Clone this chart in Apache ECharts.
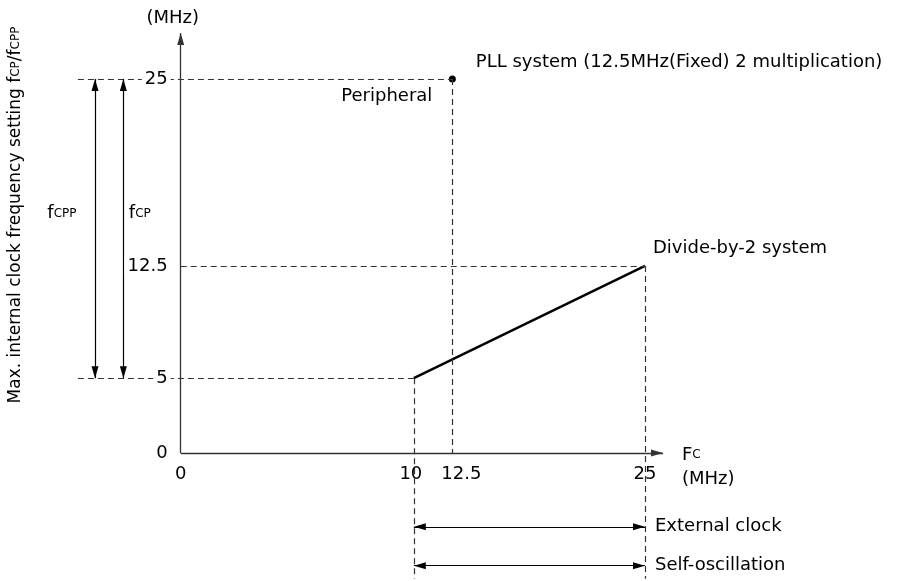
<!DOCTYPE html>
<html>
<head>
<meta charset="utf-8">
<script src="https://cdn.jsdelivr.net/npm/echarts@6/dist/echarts.min.js"></script>
<style>html,body{margin:0;padding:0;background:#fff}#c{width:904px;height:581px}</style>
</head>
<body>
<div id="c"></div>
<script>
// ---- data (schematic chart, MHz) ----
const X_MIN = -14, X_MAX = 26.17;      // x extent incl. left annotation area
const Y_MIN = -8.4, Y_MAX = 28.07;     // y extent incl. bottom annotation area
const X_ORIGIN = -5.13;                // where the drawn axes cross (labelled "0")
const xTickValues = [10, 12.5, 25];
const yTickValues = [0, 5, 12.5, 25];
const divideBy2 = [[10, 5], [25, 12.5]];
const pllPoint = [[12.5, 25]];
const fcpRange = [5, 25];              // fCP / fCPP span
const fcInputRange = [10, 25];         // external clock / self-oscillation span
const fcppX = -10.69, fcpX = -8.85;    // annotation arrows columns
const externalY = -4.93, selfY = -7.53;// annotation arrows rows
const guideLeftX = -11.8;
const arrowLabelY = 16;

const FONT = 'DejaVu Sans';
const FS = 18;
const norm = {fontFamily: FONT, fontSize: FS, color: '#000'};
const small = {fontFamily: FONT, fontSize: 12, color: '#000'};

function tri(coord, size) {
  return {coord: coord, symbol: 'triangle', symbolSize: size || [7, 12], symbolOffset: [0, '50%']};
}
function plain(coord) { return {coord: coord, symbol: 'none'}; }

function xLabel(v) {
  if (Math.abs(v - X_ORIGIN) < 1e-9) return '0';
  if (v === 12.5) return '{r|12.5}';
  if (v === 10) return '{l|10}';
  return String(v);
}

const chart = echarts.init(document.getElementById('c'));
chart.setOption({
  animation: false,
  grid: {left: 44, right: 241, top: 33, bottom: 2.3, outerBoundsMode: 'none'},
  xAxis: {
    type: 'value', min: X_MIN, max: X_MAX, position: 'bottom', offset: -125.7, z: 10,
    axisLine: {show: false, onZero: false},
    axisTick: {show: false}, splitLine: {show: false},
    axisLabel: {
      customValues: [X_ORIGIN].concat(xTickValues),
      formatter: xLabel,
      margin: 12, fontFamily: FONT, fontSize: FS, color: '#000',
      rich: {
        r: Object.assign({padding: [0, 0, 0, 18]}, norm),
        l: Object.assign({padding: [0, 6, 0, 0]}, norm)
      }
    },
    name: '{b|F}{s|C}\n{b|(MHz)}', nameLocation: 'end', nameGap: 19,
    nameTextStyle: {
      align: 'left', verticalAlign: 'middle', padding: [28, 0, 0, 0], lineHeight: 24,
      rich: {b: Object.assign({lineHeight: 24}, norm), s: Object.assign({lineHeight: 24}, small)}
    }
  },
  yAxis: {
    type: 'value', min: Y_MIN, max: Y_MAX, position: 'left', offset: -136.7, z: 10,
    axisLine: {show: false, onZero: false},
    axisTick: {show: false}, splitLine: {show: false},
    axisLabel: {
      customValues: yTickValues, margin: 10, fontFamily: FONT, fontSize: FS, color: '#000',
      backgroundColor: '#fff', padding: [1, 3]
    },
    name: '(MHz)', nameLocation: 'end', nameGap: 6,
    nameTextStyle: Object.assign({padding: [0, 16, 0, 0]}, norm)
  },
  graphic: [{
    type: 'text', x: 16, y: 215, rotation: Math.PI / 2, silent: true,
    style: {
      text: 'Max. internal clock frequency setting f{s|CP}/f{s|CPP}',
      fontFamily: FONT, fontSize: 17, fill: '#000', align: 'center', verticalAlign: 'middle',
      rich: {s: {fontFamily: FONT, fontSize: 12, fill: '#000'}}
    }
  }],
  series: [
    {
      name: 'axes', type: 'line', data: [], clip: false, silent: true,
      markLine: {
        silent: true, animation: false, symbol: 'none', label: {show: false},
        emphasis: {disabled: true},
        lineStyle: {color: '#333', width: 1.3, type: 'solid'},
        data: [
          [plain([X_ORIGIN, 0]), tri([X_MAX, 0])],
          [plain([X_ORIGIN, 0]), tri([X_ORIGIN, Y_MAX])]
        ]
      }
    },
    {
      name: 'guides', type: 'line', data: [], clip: false, silent: true,
      markLine: {
        silent: true, animation: false, symbol: 'none', label: {show: false},
        emphasis: {disabled: true},
        lineStyle: {color: '#333', width: 1.2, type: [6, 4]},
        data: [
          [plain([guideLeftX, pllPoint[0][1]]), Object.assign(plain(pllPoint[0]), {
            label: Object.assign({show: true, position: 'insideEndBottom', distance: [20, 8], formatter: 'Peripheral'}, norm)
          })],
          [plain([X_ORIGIN, divideBy2[1][1]]), plain(divideBy2[1])],
          [plain([guideLeftX, divideBy2[0][1]]), plain(divideBy2[0])],
          [plain(pllPoint[0]), plain([pllPoint[0][0], 0])],
          [plain(divideBy2[0]), plain([divideBy2[0][0], Y_MIN])],
          [plain(divideBy2[1]), plain([divideBy2[1][0], Y_MIN])]
        ]
      }
    },
    {
      name: 'ranges', type: 'line', data: [], clip: false, silent: true,
      markLine: {
        silent: true, animation: false, symbol: 'none', label: {show: false},
        emphasis: {disabled: true},
        lineStyle: {color: '#000', width: 1.2, type: 'solid'},
        data: [
          [tri([fcppX, fcpRange[0]]), tri([fcppX, fcpRange[1]])],
          [tri([fcpX, fcpRange[0]]), tri([fcpX, fcpRange[1]])],
          [tri([fcInputRange[0], externalY]), Object.assign(tri([fcInputRange[1], externalY]), {
            label: Object.assign({show: true, position: 'end', distance: 10, formatter: 'External clock'}, norm)
          })],
          [tri([fcInputRange[0], selfY]), Object.assign(tri([fcInputRange[1], selfY]), {
            label: Object.assign({show: true, position: 'end', distance: 10, formatter: 'Self-oscillation'}, norm)
          })]
        ]
      },
      markPoint: {
        silent: true, animation: false, symbol: 'circle', symbolSize: 1,
        itemStyle: {color: 'rgba(0,0,0,0)'},
        data: [
          {coord: [fcppX, arrowLabelY], label: {show: true, position: 'left', distance: 18,
            formatter: '{b|f}{s|CPP}', rich: {b: norm, s: small}}},
          {coord: [fcpX, arrowLabelY], label: {show: true, position: 'right', distance: 5,
            formatter: '{b|f}{s|CP}', rich: {b: norm, s: small}}}
        ]
      }
    },
    {
      name: 'Divide-by-2 system', type: 'line', data: divideBy2, symbol: 'none', clip: false, z: 3,
      lineStyle: {color: '#000', width: 2.5},
      endLabel: Object.assign({show: true, formatter: 'Divide-by-2 system', offset: [0, -18]}, norm)
    },
    {
      name: 'PLL system', type: 'scatter', data: pllPoint, symbolSize: 7, clip: false, z: 4,
      itemStyle: {color: '#000', opacity: 1},
      label: Object.assign({show: true, position: 'right', distance: 20, offset: [0, -17], opacity: 1,
        formatter: 'PLL system (12.5MHz(Fixed) 2 multiplication)'}, norm)
    }
  ]
});
</script>
</body>
</html>
